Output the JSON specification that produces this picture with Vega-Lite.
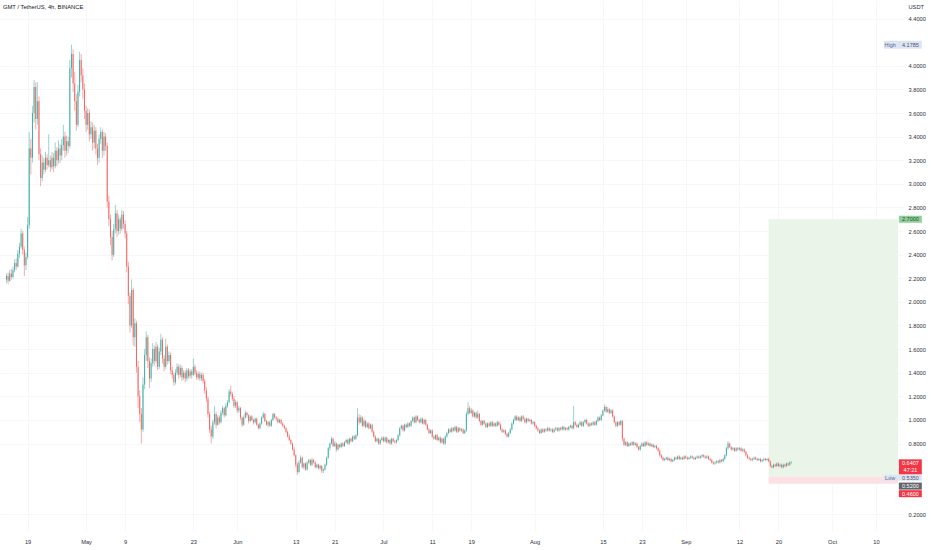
{
  "$schema": "https://vega.github.io/schema/vega-lite/v6.json",
  "width": 903,
  "height": 530,
  "autosize": {"type": "none"},
  "padding": {"left": 0, "top": 0, "right": 29, "bottom": 20},
  "background": "#ffffff",
  "config": {
    "view": {"stroke": null},
    "font": "Liberation Sans",
    "axis": {"labelOverlap": false, "labelBound": false, "labelFlush": false}
  },
  "title": {
    "text": "GMT / TetherUS, 4h, BINANCE",
    "anchor": "start",
    "frame": "group",
    "orient": "top",
    "offset": -10,
    "dx": 3,
    "fontSize": 5.8,
    "fontWeight": "normal",
    "color": "#131722"
  },
  "layer": [
    {
      "data": {
        "values": "t,o,h,l,c\n2022-04-14T16:00,2.19,2.24,2.16,2.22\n2022-09-22T16:00,0.64,0.65,0.63,0.6407",
        "format": {"type": "csv", "parse": {"t": "date", "o": "number", "h": "number", "l": "number", "c": "number"}}
      },
      "mark": {"type": "rule", "strokeWidth": 0, "opacity": 0},
      "encoding": {
        "x": {
          "field": "t",
          "type": "temporal",
          "scale": {
            "domain": [
              {"year": 2022, "month": 4, "date": 14, "hours": 8, "minutes": 48},
              {"year": 2022, "month": 10, "date": 14, "hours": 12, "minutes": 45}
            ],
            "nice": false
          },
          "axis": {
            "title": null,
            "orient": "bottom",
            "tickCount": 40,
            "values": [
              {"year": 2022, "month": 4, "date": 19},
              {"year": 2022, "month": 5, "date": 1},
              {"year": 2022, "month": 5, "date": 9},
              {"year": 2022, "month": 5, "date": 23},
              {"year": 2022, "month": 6, "date": 1},
              {"year": 2022, "month": 6, "date": 13},
              {"year": 2022, "month": 6, "date": 21},
              {"year": 2022, "month": 7, "date": 1},
              {"year": 2022, "month": 7, "date": 11},
              {"year": 2022, "month": 7, "date": 19},
              {"year": 2022, "month": 8, "date": 1},
              {"year": 2022, "month": 8, "date": 15},
              {"year": 2022, "month": 8, "date": 23},
              {"year": 2022, "month": 9, "date": 1},
              {"year": 2022, "month": 9, "date": 12},
              {"year": 2022, "month": 9, "date": 20},
              {"year": 2022, "month": 10, "date": 1},
              {"year": 2022, "month": 10, "date": 10}
            ],
            "labelExpr": "date(datum.value) == 1 ? timeFormat(datum.value, '%b') : timeFormat(datum.value, '%-d')",
            "labelFontSize": 5.7,
            "labelColor": "#2a2e39",
            "labelPadding": 8,
            "labelBaseline": "top",
            "labelAlign": "center",
            "labelOverlap": false,
            "labelFlush": false,
            "domain": false,
            "ticks": false,
            "grid": true,
            "gridColor": "#f6f7fa",
            "gridWidth": 1
          }
        },
        "y": {
          "field": "l",
          "type": "quantitative",
          "scale": {"domain": [0.11, 4.515], "nice": false, "zero": false},
          "axis": {
            "orient": "right",
            "title": "USDT",
            "titleAngle": 0,
            "titleAlign": "left",
            "titleBaseline": "top",
            "titleX": 5,
            "titleY": 3,
            "titleFontSize": 5.7,
            "titleFontWeight": "normal",
            "titleColor": "#2a2e39",
            "tickCount": 40,
            "values": [0.2, 0.8, 1.0, 1.2, 1.4, 1.6, 1.8, 2.0, 2.2, 2.4, 2.6, 2.8, 3.0, 3.2, 3.4, 3.6, 3.8, 4.0, 4.4],
            "format": ".4f",
            "labelFontSize": 5.7,
            "labelColor": "#2a2e39",
            "labelPadding": 5,
            "labelAlign": "left",
            "labelBaseline": "middle",
            "labelOverlap": false,
            "labelBound": false,
            "labelFlush": false,
            "domain": false,
            "ticks": false,
            "grid": true,
            "gridColor": "#f6f7fa",
            "gridWidth": 1
          }
        },
        "y2": {"field": "h"}
      }
    },
    {
      "data": {"values": [{"start": "2022-09-18T00:00", "target": 2.7, "entry": 0.52, "stop": 0.46}]},
      "layer": [
        {
          "mark": {"type": "rect", "color": "#eaf4e8"},
          "encoding": {
            "x": {"field": "start", "type": "temporal"},
            "x2": {"datum": {"year": 2022, "month": 10, "date": 14, "hours": 12, "minutes": 45}},
            "y": {"field": "target", "type": "quantitative"},
            "y2": {"field": "entry"}
          }
        },
        {
          "mark": {"type": "rect", "color": "#fbe1e4"},
          "encoding": {
            "x": {"field": "start", "type": "temporal"},
            "x2": {"datum": {"year": 2022, "month": 10, "date": 14, "hours": 12, "minutes": 45}},
            "y": {"field": "entry", "type": "quantitative"},
            "y2": {"field": "stop"}
          }
        }
      ]
    },
    {
      "mark": {"type": "rule", "color": "#f23645", "opacity": 0.3, "strokeWidth": 1},
      "encoding": {"y": {"datum": 0.6407, "type": "quantitative"}}
    },
    {
      "data": {
        "values": "t,o,h,l,c\n2022-04-14T16:00,2.19,2.24,2.16,2.22\n2022-04-15T00:00,2.22,2.25,2.15,2.18\n2022-04-15T08:00,2.18,2.27,2.17,2.24\n2022-04-15T16:00,2.24,2.28,2.19,2.21\n2022-04-16T00:00,2.21,2.30,2.20,2.27\n2022-04-16T08:00,2.27,2.36,2.25,2.33\n2022-04-16T16:00,2.33,2.37,2.27,2.30\n2022-04-17T00:00,2.30,2.44,2.29,2.41\n2022-04-17T08:00,2.41,2.50,2.37,2.47\n2022-04-17T16:00,2.47,2.62,2.45,2.58\n2022-04-18T00:00,2.58,2.60,2.40,2.44\n2022-04-18T08:00,2.44,2.47,2.22,2.31\n2022-04-18T16:00,2.31,2.42,2.27,2.38\n2022-04-19T00:00,2.38,2.72,2.36,2.65\n2022-04-19T08:00,2.65,3.44,2.62,3.30\n2022-04-19T16:00,3.30,3.38,3.08,3.22\n2022-04-20T00:00,3.22,3.66,3.18,3.60\n2022-04-20T08:00,3.60,3.88,3.52,3.82\n2022-04-20T16:00,3.82,3.86,3.46,3.55\n2022-04-21T00:00,3.55,3.86,3.50,3.70\n2022-04-21T08:00,3.70,3.74,3.20,3.25\n2022-04-21T16:00,3.25,3.30,2.98,3.05\n2022-04-22T00:00,3.05,3.24,3.02,3.18\n2022-04-22T08:00,3.18,3.22,3.08,3.12\n2022-04-22T16:00,3.12,3.27,3.10,3.22\n2022-04-23T00:00,3.22,3.25,3.12,3.16\n2022-04-23T08:00,3.16,3.42,3.14,3.20\n2022-04-23T16:00,3.20,3.24,3.10,3.14\n2022-04-24T00:00,3.14,3.27,3.12,3.22\n2022-04-24T08:00,3.22,3.26,3.10,3.15\n2022-04-24T16:00,3.15,3.35,3.13,3.28\n2022-04-25T00:00,3.28,3.31,3.15,3.20\n2022-04-25T08:00,3.20,3.37,3.17,3.30\n2022-04-25T16:00,3.30,3.34,3.18,3.24\n2022-04-26T00:00,3.24,3.38,3.20,3.33\n2022-04-26T08:00,3.33,3.50,3.28,3.40\n2022-04-26T16:00,3.40,3.44,3.22,3.28\n2022-04-27T00:00,3.28,3.41,3.24,3.36\n2022-04-27T08:00,3.36,3.40,3.26,3.32\n2022-04-27T16:00,3.32,4.05,3.30,3.98\n2022-04-28T00:00,3.98,4.1785,3.90,4.10\n2022-04-28T08:00,4.10,4.14,3.78,3.85\n2022-04-28T16:00,3.85,3.95,3.62,3.70\n2022-04-29T00:00,3.70,3.76,3.45,3.50\n2022-04-29T08:00,3.50,3.84,3.48,3.78\n2022-04-29T16:00,3.78,4.12,3.74,4.05\n2022-04-30T00:00,4.05,4.10,3.86,3.92\n2022-04-30T08:00,3.92,3.98,3.72,3.80\n2022-04-30T16:00,3.80,3.85,3.55,3.62\n2022-05-01T00:00,3.62,3.66,3.44,3.50\n2022-05-01T08:00,3.50,3.64,3.46,3.60\n2022-05-01T16:00,3.60,3.63,3.36,3.42\n2022-05-02T00:00,3.42,3.53,3.38,3.48\n2022-05-02T08:00,3.48,3.52,3.28,3.35\n2022-05-02T16:00,3.35,3.50,3.30,3.45\n2022-05-03T00:00,3.45,3.48,3.25,3.30\n2022-05-03T08:00,3.30,3.34,3.16,3.22\n2022-05-03T16:00,3.22,3.42,3.18,3.38\n2022-05-04T00:00,3.38,3.48,3.34,3.44\n2022-05-04T08:00,3.44,3.46,3.22,3.28\n2022-05-04T16:00,3.28,3.44,3.24,3.40\n2022-05-05T00:00,3.40,3.43,3.28,3.32\n2022-05-05T08:00,3.32,3.35,2.80,2.85\n2022-05-05T16:00,2.85,2.90,2.64,2.70\n2022-05-06T00:00,2.70,2.74,2.48,2.55\n2022-05-06T08:00,2.55,2.60,2.35,2.40\n2022-05-06T16:00,2.40,2.66,2.38,2.62\n2022-05-07T00:00,2.62,2.82,2.58,2.75\n2022-05-07T08:00,2.75,2.78,2.55,2.60\n2022-05-07T16:00,2.60,2.74,2.57,2.70\n2022-05-08T00:00,2.70,2.72,2.58,2.62\n2022-05-08T08:00,2.62,2.78,2.60,2.74\n2022-05-08T16:00,2.74,2.77,2.62,2.66\n2022-05-09T00:00,2.66,2.69,2.54,2.58\n2022-05-09T08:00,2.58,2.60,2.25,2.30\n2022-05-09T16:00,2.30,2.34,1.98,2.05\n2022-05-10T00:00,2.05,2.08,1.74,1.80\n2022-05-10T08:00,1.80,2.19,1.78,2.10\n2022-05-10T16:00,2.10,2.12,1.63,1.70\n2022-05-11T00:00,1.70,1.86,1.62,1.82\n2022-05-11T08:00,1.82,1.84,1.40,1.45\n2022-05-11T16:00,1.45,1.50,1.10,1.20\n2022-05-12T00:00,1.20,1.25,0.98,1.05\n2022-05-12T08:00,1.05,1.10,0.80,0.92\n2022-05-12T16:00,0.92,1.36,0.90,1.30\n2022-05-13T00:00,1.30,1.60,1.26,1.55\n2022-05-13T08:00,1.55,1.75,1.50,1.70\n2022-05-13T16:00,1.70,1.72,1.44,1.50\n2022-05-14T00:00,1.50,1.53,1.27,1.35\n2022-05-14T08:00,1.35,1.52,1.32,1.48\n2022-05-14T16:00,1.48,1.65,1.45,1.60\n2022-05-15T00:00,1.60,1.63,1.46,1.50\n2022-05-15T08:00,1.50,1.66,1.48,1.62\n2022-05-15T16:00,1.62,1.64,1.42,1.45\n2022-05-16T00:00,1.45,1.61,1.43,1.58\n2022-05-16T08:00,1.58,1.73,1.55,1.68\n2022-05-16T16:00,1.68,1.70,1.48,1.52\n2022-05-17T00:00,1.52,1.55,1.41,1.45\n2022-05-17T08:00,1.45,1.69,1.43,1.62\n2022-05-17T16:00,1.62,1.64,1.47,1.50\n2022-05-18T00:00,1.50,1.58,1.48,1.55\n2022-05-18T08:00,1.55,1.57,1.39,1.42\n2022-05-18T16:00,1.42,1.45,1.35,1.38\n2022-05-19T00:00,1.38,1.40,1.29,1.32\n2022-05-19T08:00,1.32,1.43,1.30,1.40\n2022-05-19T16:00,1.40,1.48,1.38,1.45\n2022-05-20T00:00,1.45,1.47,1.35,1.38\n2022-05-20T08:00,1.38,1.47,1.36,1.44\n2022-05-20T16:00,1.44,1.46,1.33,1.36\n2022-05-21T00:00,1.36,1.42,1.34,1.40\n2022-05-21T08:00,1.40,1.42,1.32,1.35\n2022-05-21T16:00,1.35,1.44,1.33,1.42\n2022-05-22T00:00,1.42,1.44,1.35,1.37\n2022-05-22T08:00,1.37,1.43,1.35,1.41\n2022-05-22T16:00,1.41,1.43,1.35,1.38\n2022-05-23T00:00,1.38,1.52,1.37,1.45\n2022-05-23T08:00,1.45,1.47,1.38,1.40\n2022-05-23T16:00,1.40,1.42,1.34,1.36\n2022-05-24T00:00,1.36,1.41,1.34,1.39\n2022-05-24T08:00,1.39,1.41,1.33,1.35\n2022-05-24T16:00,1.35,1.40,1.33,1.38\n2022-05-25T00:00,1.38,1.40,1.31,1.33\n2022-05-25T08:00,1.33,1.35,1.22,1.25\n2022-05-25T16:00,1.25,1.28,1.15,1.18\n2022-05-26T00:00,1.18,1.20,1.02,1.05\n2022-05-26T08:00,1.05,1.07,0.89,0.92\n2022-05-26T16:00,0.92,0.95,0.80,0.86\n2022-05-27T00:00,0.86,1.00,0.84,0.98\n2022-05-27T08:00,0.98,1.12,0.96,1.05\n2022-05-27T16:00,1.05,1.07,0.93,0.96\n2022-05-28T00:00,0.96,1.04,0.95,1.02\n2022-05-28T08:00,1.02,1.04,0.96,0.98\n2022-05-28T16:00,0.98,1.08,0.97,1.06\n2022-05-29T00:00,1.06,1.12,1.04,1.10\n2022-05-29T08:00,1.10,1.11,1.02,1.04\n2022-05-29T16:00,1.04,1.14,1.03,1.12\n2022-05-30T00:00,1.12,1.17,1.10,1.15\n2022-05-30T08:00,1.15,1.26,1.14,1.24\n2022-05-30T16:00,1.24,1.29,1.20,1.22\n2022-05-31T00:00,1.22,1.24,1.16,1.18\n2022-05-31T08:00,1.18,1.20,1.10,1.12\n2022-05-31T16:00,1.12,1.17,1.10,1.15\n2022-06-01T00:00,1.15,1.16,1.06,1.08\n2022-06-01T08:00,1.08,1.12,1.06,1.10\n2022-06-01T16:00,1.10,1.11,1.00,1.02\n2022-06-02T00:00,1.02,1.03,0.94,0.96\n2022-06-02T08:00,0.96,1.04,0.95,1.02\n2022-06-02T16:00,1.02,1.08,1.01,1.06\n2022-06-03T00:00,1.06,1.07,1.02,1.04\n2022-06-03T08:00,1.04,1.05,0.97,0.99\n2022-06-03T16:00,0.99,1.04,0.98,1.03\n2022-06-04T00:00,1.03,1.04,0.99,1.00\n2022-06-04T08:00,1.00,1.01,0.96,0.98\n2022-06-04T16:00,0.98,1.02,0.97,1.01\n2022-06-05T00:00,1.01,1.02,0.95,0.96\n2022-06-05T08:00,0.96,0.97,0.92,0.93\n2022-06-05T16:00,0.93,0.98,0.92,0.97\n2022-06-06T00:00,0.97,1.03,0.96,1.02\n2022-06-06T08:00,1.02,1.07,1.01,1.05\n2022-06-06T16:00,1.05,1.06,0.98,0.99\n2022-06-07T00:00,0.99,1.00,0.95,0.96\n2022-06-07T08:00,0.96,0.99,0.94,0.98\n2022-06-07T16:00,0.98,0.99,0.94,0.95\n2022-06-08T00:00,0.95,1.01,0.94,1.00\n2022-06-08T08:00,1.00,1.06,0.99,1.05\n2022-06-08T16:00,1.05,1.06,1.01,1.02\n2022-06-09T00:00,1.02,1.03,0.99,1.01\n2022-06-09T08:00,1.01,1.02,0.97,0.98\n2022-06-09T16:00,0.98,1.01,0.97,1.00\n2022-06-10T00:00,1.00,1.01,0.96,0.97\n2022-06-10T08:00,0.97,0.98,0.94,0.95\n2022-06-10T16:00,0.95,0.96,0.92,0.93\n2022-06-11T00:00,0.93,0.94,0.89,0.90\n2022-06-11T08:00,0.90,0.91,0.85,0.86\n2022-06-11T16:00,0.86,0.88,0.82,0.83\n2022-06-12T00:00,0.83,0.84,0.79,0.80\n2022-06-12T08:00,0.80,0.81,0.74,0.75\n2022-06-12T16:00,0.75,0.77,0.69,0.70\n2022-06-13T00:00,0.70,0.71,0.60,0.62\n2022-06-13T08:00,0.62,0.64,0.535,0.56\n2022-06-13T16:00,0.56,0.66,0.55,0.64\n2022-06-14T00:00,0.64,0.70,0.63,0.68\n2022-06-14T08:00,0.68,0.69,0.59,0.60\n2022-06-14T16:00,0.60,0.64,0.58,0.63\n2022-06-15T00:00,0.63,0.64,0.57,0.58\n2022-06-15T08:00,0.58,0.65,0.57,0.64\n2022-06-15T16:00,0.64,0.67,0.63,0.66\n2022-06-16T00:00,0.66,0.67,0.61,0.62\n2022-06-16T08:00,0.62,0.68,0.61,0.66\n2022-06-16T16:00,0.66,0.67,0.63,0.64\n2022-06-17T00:00,0.64,0.65,0.59,0.60\n2022-06-17T08:00,0.60,0.63,0.59,0.62\n2022-06-17T16:00,0.62,0.63,0.58,0.59\n2022-06-18T00:00,0.59,0.62,0.58,0.61\n2022-06-18T08:00,0.61,0.62,0.55,0.57\n2022-06-18T16:00,0.57,0.59,0.55,0.58\n2022-06-19T00:00,0.58,0.63,0.57,0.62\n2022-06-19T08:00,0.62,0.69,0.61,0.68\n2022-06-19T16:00,0.68,0.77,0.67,0.76\n2022-06-20T00:00,0.76,0.81,0.74,0.80\n2022-06-20T08:00,0.80,0.86,0.79,0.84\n2022-06-20T16:00,0.84,0.85,0.77,0.78\n2022-06-21T00:00,0.78,0.82,0.77,0.80\n2022-06-21T08:00,0.80,0.81,0.73,0.75\n2022-06-21T16:00,0.75,0.80,0.74,0.79\n2022-06-22T00:00,0.79,0.80,0.76,0.77\n2022-06-22T08:00,0.77,0.81,0.76,0.80\n2022-06-22T16:00,0.80,0.81,0.77,0.78\n2022-06-23T00:00,0.78,0.82,0.77,0.81\n2022-06-23T08:00,0.81,0.84,0.80,0.83\n2022-06-23T16:00,0.83,0.84,0.79,0.80\n2022-06-24T00:00,0.80,0.85,0.79,0.84\n2022-06-24T08:00,0.84,0.85,0.81,0.82\n2022-06-24T16:00,0.82,0.87,0.81,0.86\n2022-06-25T00:00,0.86,0.87,0.83,0.84\n2022-06-25T08:00,0.84,0.88,0.83,0.87\n2022-06-25T16:00,0.87,1.10,0.86,1.02\n2022-06-26T00:00,1.02,1.05,0.96,0.98\n2022-06-26T08:00,0.98,1.04,0.97,1.02\n2022-06-26T16:00,1.02,1.03,0.94,0.95\n2022-06-27T00:00,0.95,1.01,0.94,0.99\n2022-06-27T08:00,0.99,1.00,0.93,0.94\n2022-06-27T16:00,0.94,0.98,0.93,0.97\n2022-06-28T00:00,0.97,0.98,0.92,0.93\n2022-06-28T08:00,0.93,0.97,0.92,0.96\n2022-06-28T16:00,0.96,0.97,0.89,0.90\n2022-06-29T00:00,0.90,0.91,0.85,0.86\n2022-06-29T08:00,0.86,0.87,0.81,0.82\n2022-06-29T16:00,0.82,0.85,0.81,0.84\n2022-06-30T00:00,0.84,0.85,0.79,0.80\n2022-06-30T08:00,0.80,0.84,0.79,0.83\n2022-06-30T16:00,0.83,0.86,0.82,0.85\n2022-07-01T00:00,0.85,0.86,0.81,0.82\n2022-07-01T08:00,0.82,0.86,0.81,0.85\n2022-07-01T16:00,0.85,0.86,0.80,0.81\n2022-07-02T00:00,0.81,0.84,0.80,0.83\n2022-07-02T08:00,0.83,0.84,0.79,0.80\n2022-07-02T16:00,0.80,0.85,0.79,0.84\n2022-07-03T00:00,0.84,0.85,0.81,0.82\n2022-07-03T08:00,0.82,0.83,0.80,0.81\n2022-07-03T16:00,0.81,0.84,0.80,0.83\n2022-07-04T00:00,0.83,0.88,0.82,0.87\n2022-07-04T08:00,0.87,0.94,0.86,0.93\n2022-07-04T16:00,0.93,0.96,0.92,0.95\n2022-07-05T00:00,0.95,0.96,0.90,0.91\n2022-07-05T08:00,0.91,0.97,0.90,0.96\n2022-07-05T16:00,0.96,0.97,0.93,0.94\n2022-07-06T00:00,0.94,0.98,0.93,0.97\n2022-07-06T08:00,0.97,0.98,0.94,0.95\n2022-07-06T16:00,0.95,1.00,0.94,0.99\n2022-07-07T00:00,0.99,1.03,0.98,1.02\n2022-07-07T08:00,1.02,1.03,0.97,0.98\n2022-07-07T16:00,0.98,1.04,0.97,1.03\n2022-07-08T00:00,1.03,1.04,0.99,1.00\n2022-07-08T08:00,1.00,1.01,0.97,0.98\n2022-07-08T16:00,0.98,1.02,0.97,1.01\n2022-07-09T00:00,1.01,1.02,0.96,0.97\n2022-07-09T08:00,0.97,1.01,0.96,1.00\n2022-07-09T16:00,1.00,1.01,0.95,0.96\n2022-07-10T00:00,0.96,0.97,0.91,0.92\n2022-07-10T08:00,0.92,0.93,0.88,0.89\n2022-07-10T16:00,0.89,0.92,0.88,0.91\n2022-07-11T00:00,0.91,0.92,0.85,0.86\n2022-07-11T08:00,0.86,0.87,0.83,0.84\n2022-07-11T16:00,0.84,0.88,0.83,0.87\n2022-07-12T00:00,0.87,0.88,0.82,0.83\n2022-07-12T08:00,0.83,0.86,0.82,0.85\n2022-07-12T16:00,0.85,0.86,0.80,0.81\n2022-07-13T00:00,0.81,0.85,0.80,0.84\n2022-07-13T08:00,0.84,0.85,0.79,0.80\n2022-07-13T16:00,0.80,0.87,0.79,0.86\n2022-07-14T00:00,0.86,0.90,0.85,0.89\n2022-07-14T08:00,0.89,0.93,0.88,0.92\n2022-07-14T16:00,0.92,0.93,0.89,0.90\n2022-07-15T00:00,0.90,0.94,0.89,0.93\n2022-07-15T08:00,0.93,0.94,0.90,0.91\n2022-07-15T16:00,0.91,0.95,0.90,0.94\n2022-07-16T00:00,0.94,0.95,0.89,0.90\n2022-07-16T08:00,0.90,0.94,0.89,0.93\n2022-07-16T16:00,0.93,0.94,0.90,0.91\n2022-07-17T00:00,0.91,0.93,0.90,0.92\n2022-07-17T08:00,0.92,0.93,0.88,0.89\n2022-07-17T16:00,0.89,0.92,0.88,0.91\n2022-07-18T00:00,0.91,1.07,0.90,1.05\n2022-07-18T08:00,1.05,1.15,1.04,1.10\n2022-07-18T16:00,1.10,1.12,1.05,1.06\n2022-07-19T00:00,1.06,1.10,1.05,1.08\n2022-07-19T08:00,1.08,1.09,1.02,1.03\n2022-07-19T16:00,1.03,1.07,1.02,1.06\n2022-07-20T00:00,1.06,1.07,1.01,1.02\n2022-07-20T08:00,1.02,1.08,1.01,1.05\n2022-07-20T16:00,1.05,1.06,0.98,0.99\n2022-07-21T00:00,0.99,1.00,0.95,0.96\n2022-07-21T08:00,0.96,1.00,0.95,0.99\n2022-07-21T16:00,0.99,1.00,0.96,0.97\n2022-07-22T00:00,0.97,0.98,0.93,0.94\n2022-07-22T08:00,0.94,0.98,0.93,0.97\n2022-07-22T16:00,0.97,0.98,0.94,0.95\n2022-07-23T00:00,0.95,0.99,0.94,0.98\n2022-07-23T08:00,0.98,0.99,0.94,0.95\n2022-07-23T16:00,0.95,0.98,0.94,0.97\n2022-07-24T00:00,0.97,0.98,0.94,0.95\n2022-07-24T08:00,0.95,0.99,0.94,0.98\n2022-07-24T16:00,0.98,0.99,0.95,0.96\n2022-07-25T00:00,0.96,0.97,0.91,0.92\n2022-07-25T08:00,0.92,0.93,0.89,0.90\n2022-07-25T16:00,0.90,0.92,0.89,0.91\n2022-07-26T00:00,0.91,0.92,0.87,0.88\n2022-07-26T08:00,0.88,0.89,0.85,0.86\n2022-07-26T16:00,0.86,0.90,0.85,0.89\n2022-07-27T00:00,0.89,0.93,0.88,0.92\n2022-07-27T08:00,0.92,0.98,0.91,0.97\n2022-07-27T16:00,0.97,1.01,0.96,1.00\n2022-07-28T00:00,1.00,1.04,0.99,1.03\n2022-07-28T08:00,1.03,1.04,0.99,1.00\n2022-07-28T16:00,1.00,1.03,0.99,1.02\n2022-07-29T00:00,1.02,1.03,0.98,0.99\n2022-07-29T08:00,0.99,1.04,0.98,1.03\n2022-07-29T16:00,1.03,1.04,1.00,1.01\n2022-07-30T00:00,1.01,1.02,0.97,0.98\n2022-07-30T08:00,0.98,1.02,0.97,1.01\n2022-07-30T16:00,1.01,1.02,0.98,0.99\n2022-07-31T00:00,0.99,1.01,0.98,1.00\n2022-07-31T08:00,1.00,1.01,0.96,0.97\n2022-07-31T16:00,0.97,0.99,0.96,0.98\n2022-08-01T00:00,0.98,0.99,0.94,0.95\n2022-08-01T08:00,0.95,0.96,0.92,0.93\n2022-08-01T16:00,0.93,0.94,0.90,0.91\n2022-08-02T00:00,0.91,0.92,0.88,0.89\n2022-08-02T08:00,0.89,0.93,0.88,0.92\n2022-08-02T16:00,0.92,0.93,0.89,0.90\n2022-08-03T00:00,0.90,0.93,0.89,0.92\n2022-08-03T08:00,0.92,0.93,0.90,0.91\n2022-08-03T16:00,0.91,0.94,0.90,0.93\n2022-08-04T00:00,0.93,0.94,0.90,0.91\n2022-08-04T08:00,0.91,0.93,0.90,0.92\n2022-08-04T16:00,0.92,0.93,0.89,0.90\n2022-08-05T00:00,0.90,0.93,0.89,0.92\n2022-08-05T08:00,0.92,0.94,0.91,0.93\n2022-08-05T16:00,0.93,0.94,0.90,0.91\n2022-08-06T00:00,0.91,0.94,0.90,0.93\n2022-08-06T08:00,0.93,0.94,0.91,0.92\n2022-08-06T16:00,0.92,0.95,0.91,0.94\n2022-08-07T00:00,0.94,0.95,0.91,0.92\n2022-08-07T08:00,0.92,0.94,0.91,0.93\n2022-08-07T16:00,0.93,0.94,0.91,0.92\n2022-08-08T00:00,0.92,0.95,0.91,0.94\n2022-08-08T08:00,0.94,0.96,0.93,0.95\n2022-08-08T16:00,0.95,0.96,0.92,0.93\n2022-08-09T00:00,0.93,1.12,0.92,0.98\n2022-08-09T08:00,0.98,0.99,0.95,0.96\n2022-08-09T16:00,0.96,0.97,0.93,0.94\n2022-08-10T00:00,0.94,0.97,0.93,0.96\n2022-08-10T08:00,0.96,0.99,0.95,0.98\n2022-08-10T16:00,0.98,0.99,0.94,0.95\n2022-08-11T00:00,0.95,0.99,0.94,0.98\n2022-08-11T08:00,0.98,1.01,0.97,1.00\n2022-08-11T16:00,1.00,1.01,0.96,0.97\n2022-08-12T00:00,0.97,0.98,0.94,0.95\n2022-08-12T08:00,0.95,0.98,0.94,0.97\n2022-08-12T16:00,0.97,0.98,0.95,0.96\n2022-08-13T00:00,0.96,0.99,0.95,0.98\n2022-08-13T08:00,0.98,0.99,0.95,0.96\n2022-08-13T16:00,0.96,1.00,0.95,0.99\n2022-08-14T00:00,0.99,1.03,0.98,1.02\n2022-08-14T08:00,1.02,1.03,0.99,1.00\n2022-08-14T16:00,1.00,1.05,0.99,1.04\n2022-08-15T00:00,1.04,1.09,1.03,1.08\n2022-08-15T08:00,1.08,1.13,1.07,1.11\n2022-08-15T16:00,1.11,1.12,1.06,1.07\n2022-08-16T00:00,1.07,1.11,1.06,1.09\n2022-08-16T08:00,1.09,1.10,1.05,1.06\n2022-08-16T16:00,1.06,1.09,1.05,1.08\n2022-08-17T00:00,1.08,1.09,1.02,1.03\n2022-08-17T08:00,1.03,1.04,0.97,0.98\n2022-08-17T16:00,0.98,0.99,0.94,0.95\n2022-08-18T00:00,0.95,0.99,0.94,0.98\n2022-08-18T08:00,0.98,0.99,0.95,0.96\n2022-08-18T16:00,0.96,1.00,0.95,0.99\n2022-08-19T00:00,0.99,1.00,0.82,0.84\n2022-08-19T08:00,0.84,0.85,0.78,0.79\n2022-08-19T16:00,0.79,0.82,0.78,0.81\n2022-08-20T00:00,0.81,0.82,0.77,0.78\n2022-08-20T08:00,0.78,0.81,0.77,0.80\n2022-08-20T16:00,0.80,0.81,0.78,0.79\n2022-08-21T00:00,0.79,0.82,0.78,0.81\n2022-08-21T08:00,0.81,0.82,0.78,0.79\n2022-08-21T16:00,0.79,0.81,0.78,0.80\n2022-08-22T00:00,0.80,0.81,0.76,0.77\n2022-08-22T08:00,0.77,0.78,0.74,0.75\n2022-08-22T16:00,0.75,0.79,0.74,0.78\n2022-08-23T00:00,0.78,0.81,0.77,0.80\n2022-08-23T08:00,0.80,0.81,0.77,0.78\n2022-08-23T16:00,0.78,0.82,0.77,0.81\n2022-08-24T00:00,0.81,0.82,0.78,0.79\n2022-08-24T08:00,0.79,0.81,0.78,0.80\n2022-08-24T16:00,0.80,0.81,0.77,0.78\n2022-08-25T00:00,0.78,0.80,0.77,0.79\n2022-08-25T08:00,0.79,0.80,0.76,0.77\n2022-08-25T16:00,0.77,0.79,0.76,0.78\n2022-08-26T00:00,0.78,0.79,0.75,0.76\n2022-08-26T08:00,0.76,0.77,0.73,0.74\n2022-08-26T16:00,0.74,0.75,0.69,0.70\n2022-08-27T00:00,0.70,0.71,0.67,0.68\n2022-08-27T08:00,0.68,0.69,0.65,0.66\n2022-08-27T16:00,0.66,0.68,0.65,0.67\n2022-08-28T00:00,0.67,0.69,0.66,0.68\n2022-08-28T08:00,0.68,0.69,0.65,0.66\n2022-08-28T16:00,0.66,0.68,0.65,0.67\n2022-08-29T00:00,0.67,0.68,0.64,0.65\n2022-08-29T08:00,0.65,0.67,0.64,0.66\n2022-08-29T16:00,0.66,0.69,0.65,0.68\n2022-08-30T00:00,0.68,0.69,0.66,0.67\n2022-08-30T08:00,0.67,0.70,0.66,0.69\n2022-08-30T16:00,0.69,0.70,0.66,0.67\n2022-08-31T00:00,0.67,0.69,0.66,0.68\n2022-08-31T08:00,0.68,0.69,0.66,0.67\n2022-08-31T16:00,0.67,0.70,0.66,0.69\n2022-09-01T00:00,0.69,0.70,0.67,0.68\n2022-09-01T08:00,0.68,0.69,0.66,0.67\n2022-09-01T16:00,0.67,0.69,0.66,0.68\n2022-09-02T00:00,0.68,0.70,0.67,0.69\n2022-09-02T08:00,0.69,0.70,0.67,0.68\n2022-09-02T16:00,0.68,0.69,0.66,0.67\n2022-09-03T00:00,0.67,0.69,0.66,0.68\n2022-09-03T08:00,0.68,0.70,0.67,0.69\n2022-09-03T16:00,0.69,0.70,0.67,0.68\n2022-09-04T00:00,0.68,0.70,0.67,0.69\n2022-09-04T08:00,0.69,0.71,0.68,0.70\n2022-09-04T16:00,0.70,0.71,0.68,0.69\n2022-09-05T00:00,0.69,0.70,0.67,0.68\n2022-09-05T08:00,0.68,0.70,0.67,0.69\n2022-09-05T16:00,0.69,0.70,0.66,0.67\n2022-09-06T00:00,0.67,0.68,0.65,0.66\n2022-09-06T08:00,0.66,0.67,0.63,0.64\n2022-09-06T16:00,0.64,0.65,0.62,0.63\n2022-09-07T00:00,0.63,0.65,0.62,0.64\n2022-09-07T08:00,0.64,0.66,0.63,0.65\n2022-09-07T16:00,0.65,0.66,0.63,0.64\n2022-09-08T00:00,0.64,0.67,0.63,0.66\n2022-09-08T08:00,0.66,0.67,0.64,0.65\n2022-09-08T16:00,0.65,0.68,0.64,0.67\n2022-09-09T00:00,0.67,0.71,0.66,0.70\n2022-09-09T08:00,0.70,0.77,0.69,0.76\n2022-09-09T16:00,0.76,0.82,0.75,0.80\n2022-09-10T00:00,0.80,0.81,0.76,0.77\n2022-09-10T08:00,0.77,0.78,0.74,0.75\n2022-09-10T16:00,0.75,0.77,0.74,0.76\n2022-09-11T00:00,0.76,0.77,0.73,0.74\n2022-09-11T08:00,0.74,0.77,0.73,0.76\n2022-09-11T16:00,0.76,0.77,0.74,0.75\n2022-09-12T00:00,0.75,0.77,0.74,0.76\n2022-09-12T08:00,0.76,0.77,0.73,0.74\n2022-09-12T16:00,0.74,0.76,0.73,0.75\n2022-09-13T00:00,0.75,0.76,0.72,0.73\n2022-09-13T08:00,0.73,0.74,0.69,0.70\n2022-09-13T16:00,0.70,0.71,0.67,0.68\n2022-09-14T00:00,0.68,0.69,0.66,0.67\n2022-09-14T08:00,0.67,0.68,0.65,0.66\n2022-09-14T16:00,0.66,0.68,0.65,0.67\n2022-09-15T00:00,0.67,0.69,0.66,0.68\n2022-09-15T08:00,0.68,0.69,0.66,0.67\n2022-09-15T16:00,0.67,0.68,0.65,0.66\n2022-09-16T00:00,0.66,0.68,0.65,0.67\n2022-09-16T08:00,0.67,0.68,0.64,0.65\n2022-09-16T16:00,0.65,0.67,0.64,0.66\n2022-09-17T00:00,0.66,0.68,0.65,0.67\n2022-09-17T08:00,0.67,0.68,0.65,0.66\n2022-09-17T16:00,0.66,0.68,0.65,0.67\n2022-09-18T00:00,0.67,0.68,0.64,0.65\n2022-09-18T08:00,0.65,0.66,0.60,0.61\n2022-09-18T16:00,0.61,0.62,0.59,0.60\n2022-09-19T00:00,0.60,0.63,0.59,0.62\n2022-09-19T08:00,0.62,0.63,0.60,0.61\n2022-09-19T16:00,0.61,0.64,0.60,0.63\n2022-09-20T00:00,0.63,0.64,0.60,0.61\n2022-09-20T08:00,0.61,0.63,0.60,0.62\n2022-09-20T16:00,0.62,0.63,0.59,0.60\n2022-09-21T00:00,0.60,0.63,0.59,0.62\n2022-09-21T08:00,0.62,0.63,0.60,0.61\n2022-09-21T16:00,0.61,0.64,0.60,0.63\n2022-09-22T00:00,0.63,0.64,0.61,0.62\n2022-09-22T08:00,0.62,0.65,0.61,0.64\n2022-09-22T16:00,0.64,0.65,0.63,0.6407",
        "format": {"type": "csv", "parse": {"t": "date", "o": "number", "h": "number", "l": "number", "c": "number"}}
      },
      "layer": [
        {
          "mark": {"type": "rule", "strokeWidth": 0.6, "opacity": 0.8},
          "encoding": {
            "x": {"field": "t", "type": "temporal"},
            "y": {"field": "l", "type": "quantitative"},
            "y2": {"field": "h"},
            "color": {"condition": {"test": "datum.c >= datum.o", "value": "#26a69a"}, "value": "#ef5350"}
          }
        },
        {
          "mark": {"type": "bar", "size": 1.0, "opacity": 0.8},
          "encoding": {
            "x": {"field": "t", "type": "temporal"},
            "y": {"field": "o", "type": "quantitative"},
            "y2": {"field": "c"},
            "color": {"condition": {"test": "datum.c >= datum.o", "value": "#26a69a"}, "value": "#ef5350"}
          }
        }
      ]
    },
    {
      "data": {"values": [{"p": 4.1785, "v": "4.1785", "k": "High"}]},
      "layer": [
        {
          "mark": {"type": "bar", "orient": "horizontal", "size": 8, "color": "#dde5f4"},
          "encoding": {
            "x": {"datum": {"year": 2022, "month": 10, "date": 11, "hours": 16}, "type": "temporal"},
            "x2": {"datum": {"year": 2022, "month": 10, "date": 19, "hours": 10}},
            "y": {"field": "p", "type": "quantitative"}
          }
        },
        {
          "mark": {"type": "text", "fontSize": 5.5, "color": "#5d6b88", "align": "center", "baseline": "middle"},
          "encoding": {
            "x": {"datum": {"year": 2022, "month": 10, "date": 12, "hours": 22}, "type": "temporal"},
            "y": {"field": "p", "type": "quantitative"},
            "text": {"field": "k"}
          }
        },
        {
          "mark": {"type": "text", "fontSize": 5.5, "color": "#4a5670", "align": "center", "baseline": "middle"},
          "encoding": {
            "x": {"datum": {"year": 2022, "month": 10, "date": 17, "hours": 2}, "type": "temporal"},
            "y": {"field": "p", "type": "quantitative"},
            "text": {"field": "v"}
          }
        }
      ]
    },
    {
      "data": {"values": [{"p": 0.535, "v": "0.5350", "k": "Low"}]},
      "layer": [
        {
          "mark": {"type": "bar", "orient": "horizontal", "size": 6, "color": "#dde5f4", "yOffset": 3},
          "encoding": {
            "x": {"datum": {"year": 2022, "month": 10, "date": 11, "hours": 16}, "type": "temporal"},
            "x2": {"datum": {"year": 2022, "month": 10, "date": 19, "hours": 10}},
            "y": {"field": "p", "type": "quantitative"}
          }
        },
        {
          "mark": {"type": "text", "fontSize": 5.5, "color": "#5d6b88", "align": "center", "baseline": "middle", "yOffset": 3},
          "encoding": {
            "x": {"datum": {"year": 2022, "month": 10, "date": 12, "hours": 22}, "type": "temporal"},
            "y": {"field": "p", "type": "quantitative"},
            "text": {"field": "k"}
          }
        },
        {
          "mark": {"type": "text", "fontSize": 5.5, "color": "#4a5670", "align": "center", "baseline": "middle", "yOffset": 3},
          "encoding": {
            "x": {"datum": {"year": 2022, "month": 10, "date": 17, "hours": 2}, "type": "temporal"},
            "y": {"field": "p", "type": "quantitative"},
            "text": {"field": "v"}
          }
        }
      ]
    },
    {
      "data": {"values": [{"p": 2.7, "v": "2.7000"}]},
      "layer": [
        {
          "mark": {"type": "bar", "orient": "horizontal", "size": 7, "color": "#8fcf98"},
          "encoding": {
            "x": {"datum": {"year": 2022, "month": 10, "date": 14, "hours": 17}, "type": "temporal"},
            "x2": {"datum": {"year": 2022, "month": 10, "date": 19, "hours": 10}},
            "y": {"field": "p", "type": "quantitative"}
          }
        },
        {
          "mark": {"type": "text", "fontSize": 5.5, "color": "#274d2e", "align": "center", "baseline": "middle"},
          "encoding": {
            "x": {"datum": {"year": 2022, "month": 10, "date": 17, "hours": 2}, "type": "temporal"},
            "y": {"field": "p", "type": "quantitative"},
            "text": {"field": "v"}
          }
        }
      ]
    },
    {
      "data": {"values": [{"p": 0.6407, "v": "0.6407", "timer": "47:21"}]},
      "layer": [
        {
          "mark": {"type": "bar", "orient": "horizontal", "size": 15, "color": "#f23645", "yOffset": 4.5},
          "encoding": {
            "x": {"datum": {"year": 2022, "month": 10, "date": 14, "hours": 17}, "type": "temporal"},
            "x2": {"datum": {"year": 2022, "month": 10, "date": 19, "hours": 10}},
            "y": {"field": "p", "type": "quantitative"}
          }
        },
        {
          "mark": {"type": "text", "fontSize": 5.5, "color": "#ffffff", "align": "center", "baseline": "middle", "yOffset": 0.5},
          "encoding": {
            "x": {"datum": {"year": 2022, "month": 10, "date": 17, "hours": 2}, "type": "temporal"},
            "y": {"field": "p", "type": "quantitative"},
            "text": {"field": "v"}
          }
        },
        {
          "mark": {"type": "text", "fontSize": 5.5, "color": "#ffffff", "align": "center", "baseline": "middle", "yOffset": 8},
          "encoding": {
            "x": {"datum": {"year": 2022, "month": 10, "date": 17, "hours": 2}, "type": "temporal"},
            "y": {"field": "p", "type": "quantitative"},
            "text": {"field": "timer"}
          }
        }
      ]
    },
    {
      "data": {"values": [{"p": 0.52, "v": "0.5200"}]},
      "layer": [
        {
          "mark": {"type": "bar", "orient": "horizontal", "size": 7, "color": "#62656e", "yOffset": 9.5},
          "encoding": {
            "x": {"datum": {"year": 2022, "month": 10, "date": 14, "hours": 17}, "type": "temporal"},
            "x2": {"datum": {"year": 2022, "month": 10, "date": 19, "hours": 10}},
            "y": {"field": "p", "type": "quantitative"}
          }
        },
        {
          "mark": {"type": "text", "fontSize": 5.5, "color": "#ffffff", "align": "center", "baseline": "middle", "yOffset": 9.5},
          "encoding": {
            "x": {"datum": {"year": 2022, "month": 10, "date": 17, "hours": 2}, "type": "temporal"},
            "y": {"field": "p", "type": "quantitative"},
            "text": {"field": "v"}
          }
        }
      ]
    },
    {
      "data": {"values": [{"p": 0.46, "v": "0.4600"}]},
      "layer": [
        {
          "mark": {"type": "bar", "orient": "horizontal", "size": 7, "color": "#f23645", "yOffset": 10},
          "encoding": {
            "x": {"datum": {"year": 2022, "month": 10, "date": 14, "hours": 17}, "type": "temporal"},
            "x2": {"datum": {"year": 2022, "month": 10, "date": 19, "hours": 10}},
            "y": {"field": "p", "type": "quantitative"}
          }
        },
        {
          "mark": {"type": "text", "fontSize": 5.5, "color": "#ffffff", "align": "center", "baseline": "middle", "yOffset": 10},
          "encoding": {
            "x": {"datum": {"year": 2022, "month": 10, "date": 17, "hours": 2}, "type": "temporal"},
            "y": {"field": "p", "type": "quantitative"},
            "text": {"field": "v"}
          }
        }
      ]
    }
  ]
}
